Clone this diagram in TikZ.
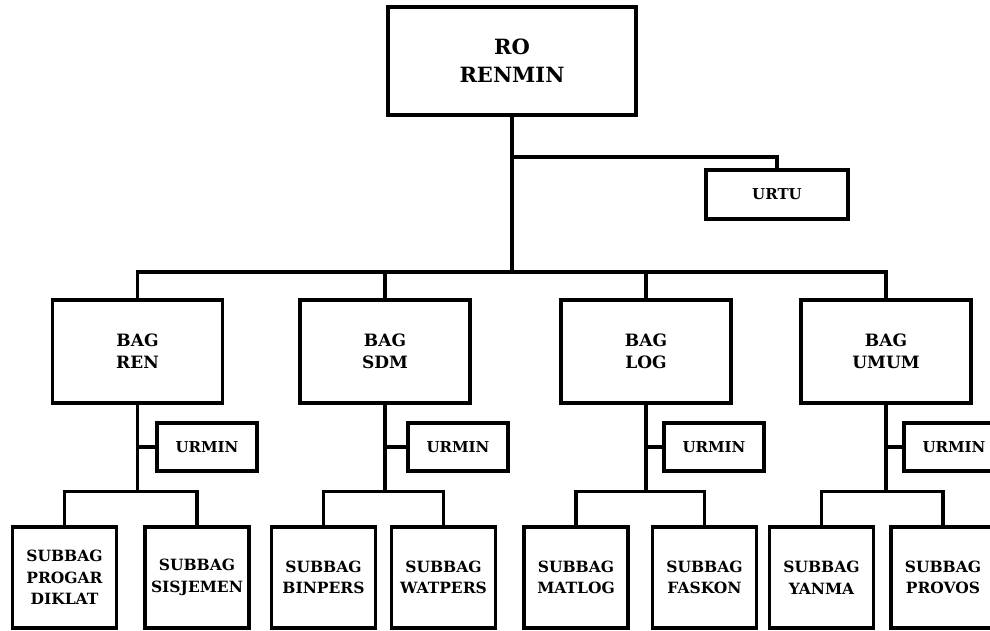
\documentclass[tikz,border=0pt]{standalone}
\usepackage{fontspec}
\setmainfont{DejaVu Serif}
\usetikzlibrary{shadows}

\tikzset{
  box/.style={draw, line width=3.4pt, fill=white, align=center, inner sep=2pt,
    font=\bfseries, drop shadow={opacity=.2, shadow xshift=1.5pt, shadow yshift=-1.5pt}},
  headbox/.style={box, minimum width=248pt, minimum height=108pt, font=\bfseries\fontsize{21}{28}\selectfont},
  bagbox/.style={box, minimum width=170pt, minimum height=103pt, font=\bfseries\fontsize{17}{22}\selectfont},
  urbox/.style={box, minimum width=100pt, minimum height=48pt, font=\bfseries\fontsize{15}{18}\selectfont},
  subbox/.style={box, minimum width=104pt, minimum height=101pt, font=\bfseries\fontsize{15.5}{21.5}\selectfont},
  conn/.style={line width=3.4pt}
}

\begin{document}
\begin{tikzpicture}[x=1pt, y=-1pt]
  \useasboundingbox (0,0) rectangle (990,630);

  % top
  \node[headbox] (ro) at (512,61) {RO\\RENMIN};
  \node[urbox, minimum width=142pt, minimum height=49pt] (urtu) at (777,194.5) {URTU};
  \coordinate (tu) at (512,157);
  \coordinate (bus) at (512,272);

  % bagian
  \node[bagbox] (ren) at (137.5,351.5) {BAG\\REN};
  \node[bagbox] (sdm) at (385,351.5) {BAG\\SDM};
  \node[bagbox] (log) at (646,351.5) {BAG\\LOG};
  \node[bagbox] (umum) at (886,351.5) {BAG\\UMUM};

  % urmin
  \node[urbox] (urren) at (207,447) {URMIN};
  \node[urbox] (ursdm) at (458,447) {URMIN};
  \node[urbox] (urlog) at (714,447) {URMIN};
  \node[urbox] (urumum) at (954,447) {URMIN};

  % subbag
  \node[subbox] (progar) at (64.5,577.5) {SUBBAG\\PROGAR\\DIKLAT};
  \node[subbox] (sisjemen) at (197,577.5) {SUBBAG\\SISJEMEN};
  \node[subbox] (binpers) at (323.5,577.5) {SUBBAG\\BINPERS};
  \node[subbox] (watpers) at (443.5,577.5) {SUBBAG\\WATPERS};
  \node[subbox] (matlog) at (576,577.5) {SUBBAG\\MATLOG};
  \node[subbox] (faskon) at (704.5,577.5) {SUBBAG\\FASKON};
  \node[subbox] (yanma) at (821.5,577.5) {SUBBAG\\YANMA};
  \node[subbox] (provos) at (943,577.5) {SUBBAG\\PROVOS};

  % lines
  \draw[conn] (ro.south) -- (bus);
  \draw[conn] (tu) -| (urtu.north);
  \draw[conn] (ren.north) |- (bus) -| (umum.north);
  \draw[conn] (sdm.north) -- (sdm.north |- bus);
  \draw[conn] (log.north) -- (log.north |- bus);
  \foreach \b/\u/\s/\t in {ren/urren/progar/sisjemen, sdm/ursdm/binpers/watpers,
                           log/urlog/matlog/faskon, umum/urumum/yanma/provos}{
    \draw[conn] (\s.north) -- ++(0,-34) coordinate (j) -| (\t.north);
    \draw[conn] (\b.south) -- (\b.south |- j);
    \draw[conn] (\b.south |- \u.west) -- (\u.west);
  }
\end{tikzpicture}
\end{document}
